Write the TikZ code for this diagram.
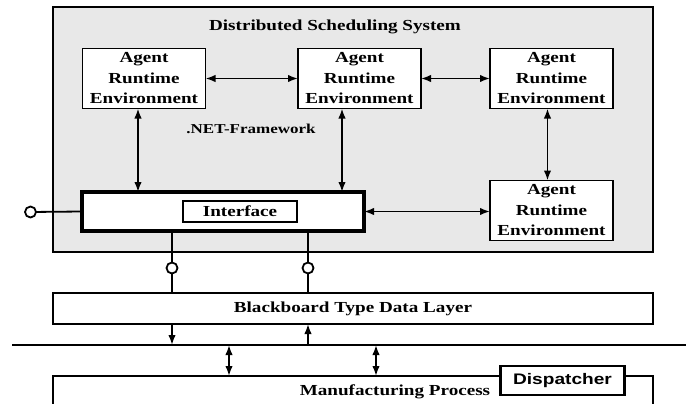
\documentclass[tikz,border=0pt]{standalone}
\usepackage{fontspec}
\setmainfont[FakeStretch=1.25]{Liberation Serif}
\setsansfont[FakeStretch=1.25]{Liberation Sans}
\usetikzlibrary{positioning,arrows.meta,calc}

\begin{document}
\begin{tikzpicture}
[x=1pt,y=-1pt,
 every node/.style={inner sep=0pt,outer sep=0pt,font=\fontsize{15.3}{20.5}\selectfont\bfseries},
 sys/.style={rectangle,draw=black,fill=black!9,minimum width=600pt,minimum height=245pt},
 are/.style={rectangle,draw=black,fill=white,align=center,minimum width=123pt,minimum height=60pt},
 iface/.style={rectangle,draw=black,fill=white,line width=3.2pt,minimum width=282pt,minimum height=39pt},
 ifin/.style={rectangle,draw=black,fill=white,minimum width=114pt,minimum height=21pt},
 layer/.style={rectangle,draw=black,fill=white,minimum width=600pt,minimum height=31pt},
 port/.style={circle,draw=black,fill=white,minimum size=11pt},
 disp/.style={rectangle,draw=black,fill=white,line width=2.4pt,minimum width=124pt,minimum height=29pt,
              font=\fontsize{15.3}{18}\selectfont\sffamily\bfseries},
 dbl/.style={{Latex[length=10pt,width=7.5pt]}-{Latex[length=10pt,width=7.5pt]}},
 one/.style={-{Latex[length=10pt,width=7.5pt]}},
 line width=1.8pt]
\useasboundingbox (0,0) rectangle (686,404);
\clip (0,0) rectangle (686,404);

\node[sys]  (sys)   at (353,129.5) {};
\node       (title) at (335,27)    {Distributed Scheduling System};
\node[are]  (are1)  at (144,78.5)  {Agent\\Runtime\\Environment};
\node[are]  (are2)  [on grid,right=215.5pt of are1] {Agent\\Runtime\\Environment};
\node[are]  (are3)  [on grid,right=192pt of are2]   {Agent\\Runtime\\Environment};
\node[are]  (are4)  [on grid,below=132pt of are3]   {Agent\\Runtime\\Environment};
\node[font=\fontsize{13.6}{16}\selectfont\bfseries] (net) at (251,129) {.NET-Framework};
\node[iface] (iface) at (223,211.5) {};
\node[ifin]  (ifin)  at (240,211.5) {Interface};
\node[port]  (lport) at (30.5,212)  {};
\node[port]  (p1)    at (172,268)   {};
\node[port]  (p2)    at (308,268)   {};
\node[layer] (bb)    at (353,308.5) {Blackboard Type Data Layer};
\coordinate  (busL)  at (12,345);
\coordinate  (busR)  at (686,345);
\node[layer,minimum height=60pt,anchor=north] (mfg) at (353,376) {};
\node        (mfgtxt) at (395,392)  {Manufacturing Process};
\node[disp]  (disp)  at (562.5,380.5) {Dispatcher};

\draw[dbl] (are1) -- (are2);
\draw[dbl] (are2) -- (are3);
\draw[dbl] ([xshift=-4pt]are3.south) -- ([xshift=-4pt]are4.north);
\draw[dbl] ([xshift=-6pt]are1.south) -- ([xshift=-85pt]iface.north);
\draw[dbl] ([xshift=-17.5pt]are2.south) -- ([xshift=119pt]iface.north);
\draw[dbl] (iface.east) -- (iface.east -| are4.west);
\draw (lport) -- (iface.west);
\draw (iface.south -| p1) -- (p1) -- (p1 |- bb.north);
\draw (iface.south -| p2) -- (p2) -- (p2 |- bb.north);
\draw[one] (bb.south -| p1) -- (p1 |- busL);
\draw[one] (p2 |- busL) -- (bb.south -| p2);
\draw (busL) -- (busR);
\draw[dbl] ($(busL)+(217,0)$) -- ([xshift=-124pt]mfg.north);
\draw[dbl] ($(busL)+(364,0)$) -- ([xshift=23pt]mfg.north);
\end{tikzpicture}
\end{document}
